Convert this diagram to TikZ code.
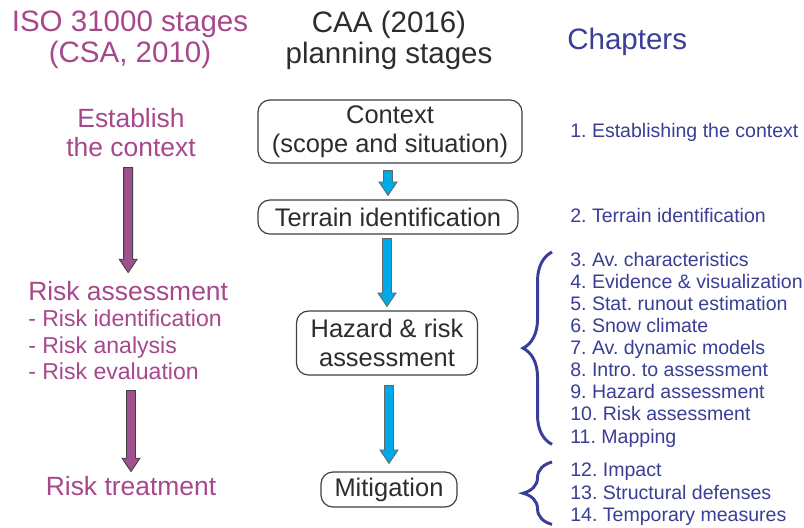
\documentclass[tikz,border=0pt]{standalone}
\usepackage{fontspec}
\setmainfont{Liberation Sans}
\usetikzlibrary{calc,decorations.pathreplacing}
\frenchspacing

\definecolor{isopurple}{RGB}{168,72,140}
\definecolor{arrowpurple}{RGB}{160,80,140}
\definecolor{chapblue}{RGB}{58,62,150}
\definecolor{flowblue}{RGB}{0,170,230}
\definecolor{boxgray}{RGB}{64,64,64}
\definecolor{textgray}{RGB}{45,45,45}

% block arrow, x is taken from the end point
\newcommand{\fatarrow}[3]{%
  \filldraw[#1] let \p1=(#2), \p2=(#3) in
    (\x2-3.2pt,\y1) -- (\x2+3.2pt,\y1) -- (\x2+3.2pt,\y2+9.5pt)
    -- (\x2+6.4pt,\y2+9.5pt) -- (\x2,\y2) -- (\x2-6.4pt,\y2+9.5pt)
    -- (\x2-3.2pt,\y2+9.5pt) -- cycle;}

\begin{document}
\begin{tikzpicture}[x=0.25mm,y=-0.25mm,
    heading/.style={font=\fontsize{21}{22}\selectfont,align=center,inner sep=0pt},
    iso/.style={text=isopurple,font=\fontsize{18.8}{20.6}\selectfont,inner sep=0pt},
    stage/.style={draw=boxgray,line width=0.85pt,rounded corners=8.5pt,text=textgray,
                  font=\fontsize{18.1}{20.6}\selectfont,align=center,inner sep=0pt},
    chap/.style={text=chapblue,font=\fontsize{13.9}{15.7}\selectfont,align=left,inner sep=0pt},
    isoarrow/.style={fill=arrowpurple,draw=boxgray,line width=0.6pt},
    caaarrow/.style={fill=flowblue,draw=boxgray!80,line width=0.6pt},
    chapbrace/.style={draw=chapblue,line width=2.1pt,decorate,
                      decoration={brace,amplitude=20.6pt}}]
  \fill[white] (0,0) rectangle (804,527);
  \useasboundingbox (0,0) rectangle (804,527);

  % column headings
  \node[heading,text=isopurple] (isohead) at (130,40) {ISO 31000 stages\\(CSA, 2010)};
  \node[heading,text=textgray] (caahead) at (389,40) {CAA (2016)\\planning stages};
  \node[heading,text=chapblue,anchor=base west] (chaphead) at (567,49) {Chapters};

  % ISO 31000 stages
  \node[iso,align=center] (est) at (131,133) {Establish\\the context};
  \node[iso,anchor=base west] (ra) at (28,300) {Risk assessment};
  \node[iso,font=\fontsize{16.4}{18.5}\selectfont,align=left,anchor=north west] (rasub) at (28,310)
    {- Risk identification\\- Risk analysis\\- Risk evaluation};
  \node[iso,anchor=base] (rt) at (131,495) {Risk treatment};

  % CAA planning stages
  \node[stage,minimum width=66mm,minimum height=15.75mm] (ctx) at (390,131.5) {Context\\(scope and situation)};
  \node[stage,minimum width=65mm,minimum height=8.5mm] (terr) at (388,217) {Terrain identification};
  \node[stage,minimum width=45.25mm,minimum height=16mm] (haz) at (387,343) {Hazard \& risk\\assessment};
  \node[stage,minimum width=34mm,minimum height=8.75mm] (miti) at (389,489.5) {Mitigation};

  % chapters
  \node[chap,anchor=base west] (ch1) at (570,137) {1. Establishing the context};
  \node[chap,anchor=base west] (ch2) at (570,222) {2. Terrain identification};
  \node[chap,anchor=north west] (chhaz) at (570,252)
    {3. Av. characteristics\\4. Evidence \& visualization\\5. Stat. runout estimation\\6. Snow climate\\7. Av. dynamic models\\8. Intro. to assessment\\9. Hazard assessment\\10. Risk assessment\\11. Mapping};
  \node[chap,anchor=north west] (chmit) at (570,463)
    {12. Impact\\13. Structural defenses\\14. Temporary measures};

  \fatarrow{isoarrow}{$(est.south)+(0,10)$}{$(ra.north)+(0,-8)$}
  \fatarrow{isoarrow}{$(rasub.south)+(0,11)$}{$(rt.north)+(0,-4)$}
  \fatarrow{caaarrow}{$(ctx.south)+(0,7)$}{$(terr.north)+(0,-4)$}
  \fatarrow{caaarrow}{$(terr.south)+(0,4)$}{$(haz.north)+(0,-4)$}
  \fatarrow{caaarrow}{$(haz.south)+(0,10)$}{$(miti.north)+(0,-8)$}

  \draw[chapbrace] ($(chhaz.south west)+(-18,-3)$) -- ($(chhaz.north west)+(-18,0)$);
  \draw[chapbrace] ($(chmit.south west)+(-18,-1)$) -- ($(chmit.north west)+(-18,-1)$);
\end{tikzpicture}
\end{document}
